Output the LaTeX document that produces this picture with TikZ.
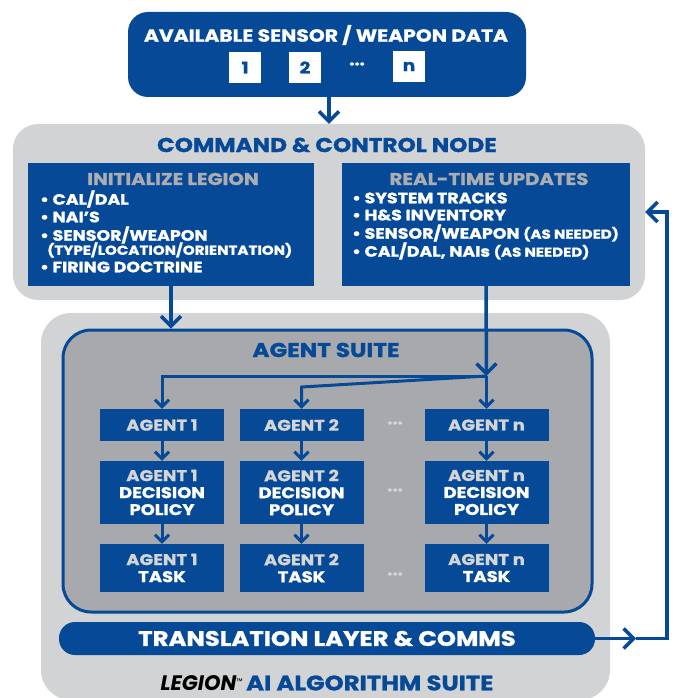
\documentclass[tikz,border=0pt]{standalone}
\usepackage{fontspec}
\setmainfont{Poppins}[BoldFeatures={FakeStretch=1.16,FakeBold=1.2}]
\usetikzlibrary{arrows.meta}
\definecolor{navy}{HTML}{064A97}
\definecolor{lgray}{HTML}{D1D3D4}
\definecolor{mgray}{HTML}{A7A9AC}
\definecolor{hgray}{HTML}{ABADB0}
\definecolor{agray}{HTML}{D4D5D7}
\newcommand\myfs[1]{\fontsize{#1}{#1}\selectfont}
\begin{document}
\begin{tikzpicture}[x=1pt,y=-1pt,
  navybox/.style={fill=navy, draw=none, inner sep=0pt, rectangle},
  grayback/.style={fill=lgray, draw=none, inner sep=0pt, rectangle},
  conn/.style={draw=navy, line width=3.5pt},
  bigtip/.style={-{Straight Barb[length=10pt,width=20pt,line width=3.5pt]}},
  smalltip/.style={-{Straight Barb[length=7pt,width=14pt,line width=3pt]}},
  agent/.style={navybox, minimum width=124pt, text=white, font=\bfseries\myfs{15.5}, align=center},
  item/.style={anchor=west, text=white, font=\bfseries\myfs{15}, inner sep=0pt},
  dots/.style={text=agray, font=\bfseries\myfs{16}, inner sep=0pt}
]
\useasboundingbox (0,0) rectangle (675,698);
\fill[white] (0,0) rectangle (675,698);

% source box
\node[navybox, rounded corners=20pt, minimum width=398pt, minimum height=85pt] (src) at (327,54.5) {};
\node[text=white, font=\bfseries\myfs{17.5}, inner sep=0pt] (srct) at (326,35) {AVAILABLE SENSOR / WEAPON DATA};
\node[fill=white, minimum width=32pt, minimum height=31pt, inner sep=0pt, text=navy, font=\bfseries\myfs{16}] (s1) at (245,67.5) {1};
\node[fill=white, minimum width=32pt, minimum height=31pt, inner sep=0pt, text=navy, font=\bfseries\myfs{16}] (s2) at (305,67.5) {2};
\node[text=white, font=\bfseries\myfs{16}, inner sep=0pt] (sd) at (357,64) {...};
\node[fill=white, minimum width=32pt, minimum height=31pt, inner sep=0pt, text=navy, font=\bfseries\myfs{16}] (sn) at (409,66.5) {n};

% command and control
\node[grayback, rounded corners=25pt, minimum width=632pt, minimum height=176pt] (cc) at (329,212) {};
\node[text=navy, font=\bfseries\myfs{20}, inner sep=0pt] (cct) at (327,145) {COMMAND \& CONTROL NODE};
\node[navybox, minimum width=286pt, minimum height=123pt] (init) at (171,224.5) {};
\node[navybox, minimum width=288pt, minimum height=123pt] (rt) at (486,224.5) {};
\node[text=hgray, font=\bfseries\myfs{17}, inner sep=0pt] (initt) at (173,179) {INITIALIZE LEGION};
\node[text=hgray, font=\bfseries\myfs{17}, inner sep=0pt] (rtt) at (489,179) {REAL-TIME UPDATES};
\node[item] (i1) at (40,199) {• CAL/DAL};
\node[item] (i2) at (40,217) {• NAI’S};
\node[item] (i3) at (40,235) {• SENSOR/WEAPON};
\node[item, font=\bfseries\myfs{13}] (i4) at (47,250) {(TYPE/LOCATION/ORIENTATION)};
\node[item] (i5) at (40,267) {• FIRING DOCTRINE};
\node[item] (r1) at (352,198) {• SYSTEM TRACKS};
\node[item] (r2) at (352,215) {• H\&S INVENTORY};
\node[item] (r3) at (352,233) {• SENSOR/WEAPON {\myfs{13}(AS NEEDED)}};
\node[item] (r4) at (352,251) {• CAL/DAL, NAIs {\myfs{13}(AS NEEDED)}};

% legion suite
\node[grayback, rounded corners=30pt, minimum width=569pt, minimum height=387pt] (leg) at (325.5,506.5) {};
\node[fill=mgray, draw=navy, line width=3pt, rounded corners=28pt, minimum width=529pt, minimum height=282pt, inner sep=0pt] (suite) at (327.5,471) {};
\node[text=navy, font=\bfseries\myfs{20}, inner sep=0pt] (suitet) at (326,350) {AGENT SUITE};

\node[agent, minimum height=32pt] (a11) at (162,425) {\textcolor{agray}{AGENT 1}};
\node[agent, minimum height=32pt] (a21) at (301.5,425) {\textcolor{agray}{AGENT 2}};
\node[agent, minimum height=32pt] (an1) at (486.5,425) {\textcolor{agray}{AGENT n}};
\node[agent, minimum height=63pt] (a12) at (162,492.5) {\textcolor{agray}{AGENT 1}\\[1.5pt]DECISION\\[1.5pt]POLICY};
\node[agent, minimum height=63pt] (a22) at (301.5,492.5) {\textcolor{agray}{AGENT 2}\\[1.5pt]DECISION\\[1.5pt]POLICY};
\node[agent, minimum height=63pt] (an2) at (486.5,492.5) {\textcolor{agray}{AGENT n}\\[1.5pt]DECISION\\[1.5pt]POLICY};
\node[agent, minimum height=48pt] (a13) at (162,568) {\textcolor{agray}{AGENT 1}\\[1.5pt]TASK};
\node[agent, minimum height=48pt] (a23) at (301.5,568) {\textcolor{agray}{AGENT 2}\\[1.5pt]TASK};
\node[agent, minimum height=48pt] (an3) at (486.5,568) {\textcolor{agray}{AGENT n}\\[1.5pt]TASK};
\node[dots] (d1) at (395,423) {...};
\node[dots] (d2) at (395,490) {...};
\node[dots] (d3) at (395,574) {...};

\node[navybox, rounded corners=16pt, minimum width=536pt, minimum height=33pt, text=white, font=\bfseries\myfs{21}] (trans) at (327,638.5) {TRANSLATION LAYER \& COMMS};
\node[inner sep=0pt, font=\bfseries\myfs{21}] (legt) at (327,683) {\textcolor{black}{\itshape LEGION}\raisebox{6pt}{\mdseries\myfs{8}™}\,\textcolor{navy}{AI ALGORITHM SUITE}};

% connectors
\draw[conn, bigtip] (src.south -| cc.north) -- (cc.north);
\draw[conn, bigtip] (init.south) -- (init.south |- suite.north);
\coordinate (j) at (486.5,376);
\coordinate (k) at (301.5,387);
\draw[conn, bigtip] (rt.south) -- (j);
\draw[conn, line width=3pt, smalltip] (j) -| (a11.north);
\draw[conn, line width=3pt, smalltip] (j) -- (k) -- (a21.north);
\draw[conn, line width=3pt, smalltip] (j) -- (an1.north);
\foreach \c in {1,2,n}{
  \draw[conn, line width=3pt, smalltip] (a\c1.south) -- (a\c2.north);
  \draw[conn, line width=3pt, smalltip] (a\c2.south) -- (a\c3.north);
}
\coordinate (m) at (636,638.5);
\coordinate (fb) at (667,212);
\draw[conn, bigtip] (trans.east) -- (m);
\draw[conn, bigtip] (m) -- (m -| fb) -- (fb) -- (cc.east |- fb);
\end{tikzpicture}
\end{document}
